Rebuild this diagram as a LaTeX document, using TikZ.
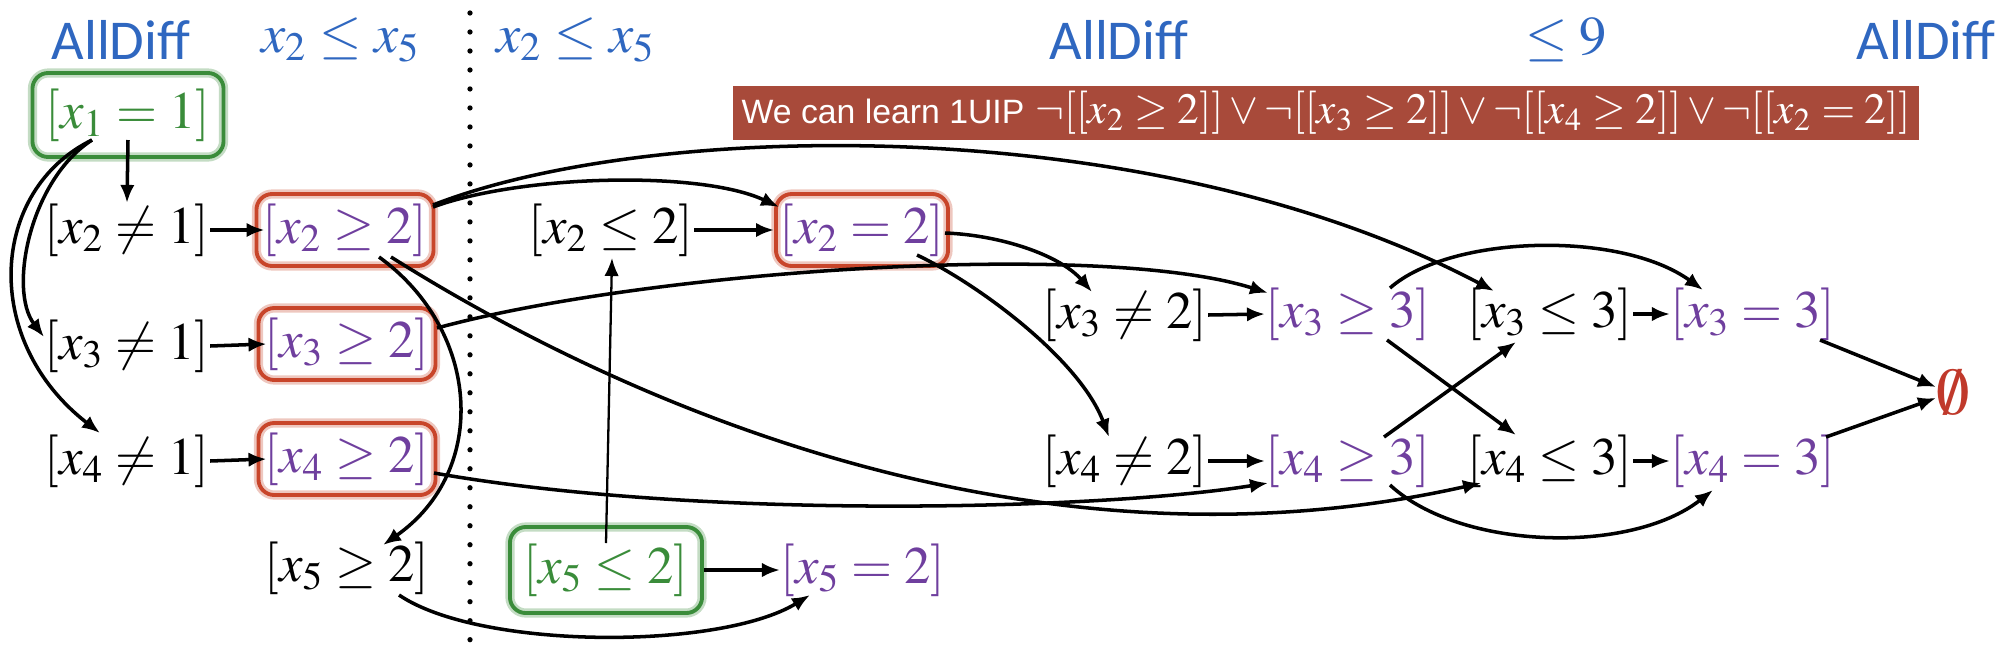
\documentclass[tikz,border=0pt]{standalone}
\usepackage{mathptmx}
\usepackage{fontspec}
\setmainfont{Liberation Serif}
\newfontfamily\carlito{Carlito}
\newfontfamily\helv{Liberation Sans}
\usetikzlibrary{arrows.meta,calc}
\definecolor{hdrblue}{HTML}{2F67C0}
\definecolor{purp}{HTML}{6F3F9E}
\definecolor{grn}{HTML}{3A8C3A}
\definecolor{boxred}{HTML}{C8452A}
\definecolor{banred}{HTML}{A84A3A}
\definecolor{emred}{HTML}{C0392B}
\begin{document}
\begin{tikzpicture}[x=0.01cm,y=-0.01cm]
\tikzset{
  nd/.style={inner sep=0pt, font=\fontsize{15}{18}\selectfont},
  pnd/.style={nd, text=purp},
  bxr/.style={nd, text=purp, draw=boxred, line width=1.1pt, rounded corners=4.5pt,
    preaction={draw=boxred, line width=2.6pt, opacity=0.3},
    minimum width=1.77cm, minimum height=0.72cm},
  bxg/.style={nd, text=grn, draw=grn, line width=1.1pt, rounded corners=4.5pt,
    preaction={draw=grn, line width=2.6pt, opacity=0.3}},
  hdrc/.style={inner sep=0pt, text=hdrblue, font=\carlito\fontsize{16}{19}\selectfont},
  hdrm/.style={inner sep=0pt, text=hdrblue, font=\fontsize{15.5}{18}\selectfont},
  banner/.style={inner sep=0pt, fill=banred, text=white, minimum width=11.86cm,
    minimum height=0.54cm, font=\fontsize{12.3}{14}\selectfont},
  con/.style={-{Latex[length=1.8mm,width=1.45mm]}, line width=1pt},
  conthin/.style={-{Latex[length=1.8mm,width=1.45mm]}, line width=0.65pt},
  dotsty/.style={line width=1.5pt, line cap=round, dash pattern=on 0pt off 5.4pt}
}
\useasboundingbox (0,0) rectangle (2012,654);

% headers
\node[hdrc] (hA1) at (121,40) {AllDiff};
\node[hdrm] (hL1) at (341,40) {$x_2 \leq x_5$};
\node[hdrm] (hL2) at (576,40) {$x_2 \leq x_5$};
\node[hdrc] (hA2) at (1119,40) {AllDiff};
\node[hdrm] (hL9) at (1566,40) {$\leq 9$};
\node[hdrc] (hA3) at (1926,40) {AllDiff};

% banner
\node[banner] (ban) at (1326,113) {{\helv\fontsize{9.6}{11}\selectfont We can learn 1UIP} $\neg[[x_2 \geq 2]] \vee \neg[[x_3 \geq 2]] \vee \neg[[x_4 \geq 2]] \vee \neg[[x_2 = 2]]$};

% dotted separator
\coordinate (dtop) at (470,13);
\coordinate (dbot) at (470,654);
\draw[dotsty] (dtop) -- (dbot);

% nodes
\node[bxg, minimum width=1.91cm, minimum height=0.84cm] (x1) at (128,115) {$[x_1 = 1]$};
\node[nd] (x2n1) at (127,230) {$[x_2 \neq 1]$};
\node[nd] (x3n1) at (127,346) {$[x_3 \neq 1]$};
\node[nd] (x4n1) at (127,461) {$[x_4 \neq 1]$};
\node[bxr] (x2g2) at (345,230) {$[x_2 \geq 2]$};
\node[bxr] (x3g2) at (347,344) {$[x_3 \geq 2]$};
\node[bxr] (x4g2) at (347,459) {$[x_4 \geq 2]$};
\node[nd] (x5g2) at (347,568) {$[x_5 \geq 2]$};
\node[nd] (x2l2) at (611,230) {$[x_2 \leq 2]$};
\node[bxg, minimum width=1.92cm, minimum height=0.86cm] (x5l2) at (606,570) {$[x_5 \leq 2]$};
\node[pnd] (x5e2) at (863,570) {$[x_5 = 2]$};
\node[bxr, minimum width=1.72cm] (x2e2) at (862,230) {$[x_2 = 2]$};
\node[nd] (x3n2) at (1125,315) {$[x_3 \neq 2]$};
\node[nd] (x4n2) at (1125,461) {$[x_4 \neq 2]$};
\node[pnd] (x3g3) at (1348,314) {$[x_3 \geq 3]$};
\node[pnd] (x4g3) at (1348,461) {$[x_4 \geq 3]$};
\node[nd] (x3l3) at (1550,314) {$[x_3 \leq 3]$};
\node[nd] (x4l3) at (1550,461) {$[x_4 \leq 3]$};
\node[pnd] (x3e3) at (1753,314) {$[x_3 = 3]$};
\node[pnd] (x4e3) at (1753,461) {$[x_4 = 3]$};
\node[nd, text=emred, font=\fontsize{19}{22}\selectfont] (emp) at (1953,392) {$\emptyset$};

% connectors
\draw[con] ($(x1)+(0,25)$) -- (x2n1.north);
\draw[con] ($(x1)+(-36,25)$) .. controls (30,180) and (8,290) .. ($(x3n1)+(-83,-9)$);
\draw[con] ($(x1)+(-36,25)$) .. controls (-10,190) and (-20,340) .. ($(x4n1)+(-27,-28)$);
\draw[con] (x2n1.east) -- ($(x2g2.west)+(10,0)$);
\draw[con] (x3n1.east) -- ($(x3g2.west)+(10,0)$);
\draw[con] (x4n1.east) -- ($(x4g2.west)+(10,0)$);
\draw[con] ($(x2g2)+(88,-23)$) .. controls (520,175) and (700,170) .. ($(x2e2)+(-83,-23)$);
\draw[con] ($(x2g2)+(88,-25)$) .. controls (650,120) and (1150,110) .. ($(x3l3)+(-56,-23)$);
\draw[con] ($(x3g2)+(90,-16)$) .. controls (650,270) and (1100,240) .. ($(x3g3)+(-80,-21)$);
\draw[con] ($(x2g2)+(34,27)$) .. controls (480,330) and (490,470) .. ($(x5g2)+(36,-23)$);
\draw[con] ($(x2g2)+(46,27)$) .. controls (650,420) and (1050,580) .. ($(x4l3)+(-69,22)$);
\draw[con] ($(x4g2)+(87,14)$) .. controls (700,520) and (1100,510) .. ($(x4g3)+(-80,22)$);
\draw[con] ($(x5g2)+(52,27)$) .. controls (480,650) and (720,650) .. ($(x5e2)+(-53,25)$);
\draw[conthin] ($(x5l2)+(0,-27)$) -- ($(x2l2)+(1,28)$);
\draw[con] (x5l2.east) -- (x5e2.west);
\draw[con] (x2l2.east) -- (x2e2.west);
\draw[con] ($(x2e2)+(83,3)$) .. controls (1000,235) and (1060,255) .. ($(x3n2)+(-33,-23)$);
\draw[con] ($(x2e2)+(55,25)$) .. controls (980,285) and (1080,360) .. ($(x4n2)+(-16,-24)$);
\draw[con] (x3n2.east) -- (x3g3.west);
\draw[con] (x4n2.east) -- (x4g3.west);
\draw[con] ($(x3g3)+(39,26)$) -- ($(x4l3)+(-34,-26)$);
\draw[con] ($(x4g3)+(36,-24)$) -- ($(x3l3)+(-34,28)$);
\draw[con] ($(x3g3)+(42,-26)$) .. controls (1450,235) and (1620,230) .. ($(x3e3)+(-50,-24)$);
\draw[con] ($(x4g3)+(42,24)$) .. controls (1460,550) and (1630,555) .. ($(x4e3)+(-40,29)$);
\draw[con] (x3l3.east) -- (x3e3.west);
\draw[con] (x4l3.east) -- (x4e3.west);
\draw[con] ($(x3e3)+(67,26)$) -- ($(emp)+(-17,-5)$);
\draw[con] ($(x4e3)+(73,-24)$) -- ($(emp)+(-17,6)$);
\end{tikzpicture}
\end{document}
